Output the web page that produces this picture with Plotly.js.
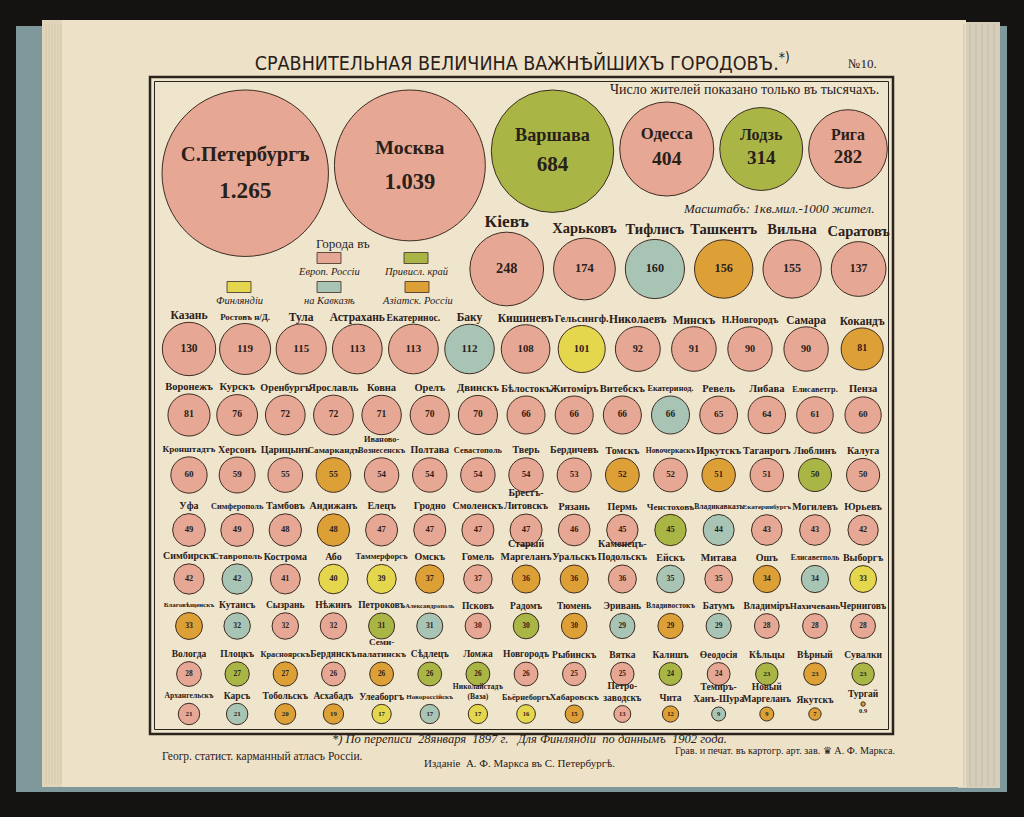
<!DOCTYPE html>
<html><head><meta charset="utf-8">
<script src="https://cdn.plot.ly/plotly-3.0.1.min.js"></script>
<style>html,body{margin:0;padding:0;background:#151311;}#chart{width:1024px;height:817px;}</style>
</head><body><div id="chart"></div>
<script>
// ---------------- DATA (population in thousands) ----------------
const row1Names = ['С.Петербургъ','Москва','Варшава','Одесса','Лодзь','Рига'];
const row1Values = [1265,1039,684,404,314,282];
const row1Labels = ['1.265','1.039','684','404','314','282'];
const row1Regions = ['E','E','P','E','P','E'];

const row2Names = ['Кіевъ','Харьковъ','Тифлисъ','Ташкентъ','Вильна','Саратовъ'];
const row2Values = [248,174,160,156,155,137];
const row2Regions = ['E','E','K','A','E','E'];

const row3Names = ['Казань','Ростовъ н/Д.','Тула','Астрахань','Екатеринос.','Баку','Кишиневъ','Гельсингф.','Николаевъ','Минскъ','Н.Новгородъ','Самара','Кокандъ'];
const row3Values = [130,119,115,113,113,112,108,101,92,91,90,90,81];
const row3Regions = ['E','E','E','E','E','K','E','F','E','E','E','E','A'];

const row4Names = ['Воронежъ','Курскъ','Оренбургъ','Ярославль','Ковна','Орелъ','Двинскъ','Бѣлостокъ','Житоміръ','Витебскъ','Екатеринод.','Ревель','Либава','Елисаветгр.','Пенза'];
const row4Values = [81,76,72,72,71,70,70,66,66,66,66,65,64,61,60];
const row4Regions = ['E','E','E','E','E','E','E','E','E','E','K','E','E','E','E'];

const row5Names = ['Кронштадтъ','Херсонъ','Царицынъ','Самаркандъ','Иваново-<br>Вознесенскъ','Полтава','Севастополь','Тверь','Бердичевъ','Томскъ','Новочеркаскъ','Иркутскъ','Таганрогъ','Люблинъ','Калуга'];
const row5Values = [60,59,55,55,54,54,54,54,53,52,52,51,51,50,50];
const row5Regions = ['E','E','E','A','E','E','E','E','E','A','E','A','E','P','E'];

const row6Names = ['Уфа','Симферополь','Тамбовъ','Андижанъ','Елецъ','Гродно','Смоленскъ','Брестъ-<br>Литовскъ','Рязань','Пермь','Ченстоховъ','Владикавказъ','Екатеринбургъ','Могилевъ','Юрьевъ'];
const row6Values = [49,49,48,48,47,47,47,47,46,45,45,44,43,43,42];
const row6Regions = ['E','E','E','A','E','E','E','E','E','E','P','K','E','E','E'];

const row7Names = ['Симбирскъ','Ставрополь','Кострома','Або','Таммерфорсъ','Омскъ','Гомель','Старый<br>Маргеланъ','Уральскъ','Каменецъ-<br>Подольскъ','Ейскъ','Митава','Ошъ','Елисаветполь','Выборгъ'];
const row7Values = [42,42,41,40,39,37,37,36,36,36,35,35,34,34,33];
const row7Regions = ['E','K','E','F','F','A','E','A','A','E','K','E','A','K','F'];

const row8Names = ['Благовѣщенскъ','Кутаисъ','Сызрань','Нѣжинъ','Петроковъ','Александрополь','Псковъ','Радомъ','Тюмень','Эривань','Владивостокъ','Батумъ','Владиміръ','Нахичевань','Черниговъ'];
const row8Values = [33,32,32,32,31,31,30,30,30,29,29,29,28,28,28];
const row8Regions = ['A','K','E','E','P','K','E','P','A','K','A','K','E','E','E'];

const row9Names = ['Вологда','Плоцкъ','Красноярскъ','Бердянскъ','Семи-<br>палатинскъ','Сѣдлецъ','Ломжа','Новгородъ','Рыбинскъ','Вятка','Калишъ','Өеодосія','Кѣльцы','Вѣрный','Сувалки'];
const row9Values = [28,27,27,26,26,26,26,26,25,25,24,24,23,23,23];
const row9Regions = ['E','P','A','E','A','P','P','E','E','E','P','E','P','A','P'];

const row10Names = ['Архангельскъ','Карсъ','Тобольскъ','Асхабадъ','Улеаборгъ','Новороссійскъ','Николайстадъ<br>(Ваза)','Бьёрнеборгъ','Хабаровскъ','Петро-<br>заводскъ','Чита','Темиръ-<br>Ханъ-Шура','Новый<br>Маргеланъ','Якутскъ','Тургай'];
const row10Values = [21,21,20,19,17,17,17,16,15,13,12,9,9,7,0.9];
const row10Regions = ['E','K','A','A','F','K','F','F','A','E','A','K','A','A','A'];

const regionKeys = ['E','P','F','K','A'];
const regionNames = ['Европ. Россіи','Привисл. край','Финляндіи','на Кавказѣ','Азіатск. Россіи'];

// ---------------- STYLE / LAYOUT ----------------
const COLORS = {E:'#e6a894', P:'#a9b646', F:'#e4d74e', K:'#a8c4b5', A:'#dda037'};
const INK = '#2a201a';
const SERIF = "'Liberation Serif', 'DejaVu Serif', serif";
const K = 4.68;                       // px of diameter per sqrt(thousand inhabitants)
const SIZEREF = 2/(K*K);              // plotly 'area' sizemode -> diameter = K*sqrt(v)
const rad = v => K*Math.sqrt(v)/2;

const bx=[], by=[], bv=[], bc=[];
const cx=[], cy=[], cv=[], cc=[], ct=[], ctp=[], cfs=[];
const lx=[], ly=[], lt=[], lfs=[];
const nx=[], ny=[], nt=[], nfs=[], vx=[], vy=[], vt=[], vfs=[];

// row 1: packed big circles
let cursor = 162;
row1Values.forEach((v,i)=>{
  const r = rad(v);
  const x = cursor + r; cursor = x + r + 6;
  const y = Math.max(149, 90 + r);
  bx.push(x); by.push(y); bv.push(v); bc.push(COLORS[row1Regions[i]]);
  nx.push(x); ny.push(y - 0.1*r - 9); nt.push(row1Names[i]); nfs.push(11.5 + 0.11*r);
  vx.push(x); vy.push(y + 0.22*r + 1); vt.push(row1Labels[i]); vfs.push(15 + 0.1*r);
});

const rows = [
  {n:row2Names, v:row2Values, g:row2Regions, mode:'packRight', right:886, gap:10, y:269, lf:14.5, off:9},
  {n:row3Names, v:row3Values, g:row3Regions, mode:'grid', x0:189, step:56.1, y:349, lf:11.5, off:6},
  {n:row4Names, v:row4Values, g:row4Regions, mode:'grid', x0:189, step:48.15, y:415, lf:10.5, off:7},
  {n:row5Names, v:row5Values, g:row5Regions, mode:'grid', x0:189, step:48.15, y:475, lf:10, off:7},
  {n:row6Names, v:row6Values, g:row6Regions, mode:'grid', x0:189, step:48.15, y:530, lf:10, off:7},
  {n:row7Names, v:row7Values, g:row7Regions, mode:'grid', x0:189, step:48.15, y:579, lf:10, off:7},
  {n:row8Names, v:row8Values, g:row8Regions, mode:'grid', x0:189, step:48.15, y:626, lf:9.5, off:7},
  {n:row9Names, v:row9Values, g:row9Regions, mode:'grid', x0:189, step:48.15, y:674, lf:9.5, off:7},
  {n:row10Names, v:row10Values, g:row10Regions, mode:'grid', x0:189, step:48.15, y:714, lf:9.5, off:7}
];

rows.forEach(row=>{
  const xs = [];
  if (row.mode === 'packRight') {
    let edge = row.right;
    for (let i=row.v.length-1;i>=0;i--){ const r=rad(row.v[i]); xs[i]=edge-r; edge = edge-2*r-row.gap; }
  } else {
    row.v.forEach((v,i)=>xs.push(row.x0 + row.step*i));
  }
  const maxW = row.mode==='grid' ? row.step*0.95 : 80;
  row.v.forEach((v,i)=>{
    const r = rad(v), d = 2*r;
    const tiny = d < 8;
    const y = tiny ? row.y - 10 : row.y;
    cx.push(xs[i]); cy.push(y); cv.push(v); cc.push(COLORS[row.g[i]]);
    ct.push(String(v)); ctp.push(tiny ? 'bottom center' : 'middle center');
    cfs.push(Math.max(6.5, 4 + 0.14*d));
    const lines = row.n[i].split('<br>');
    const longest = Math.max(...lines.map(s=>s.length));
    let fs = Math.min(row.lf * (v > 200 ? 1.2 : 1), maxW/(0.5*longest));
    lx.push(xs[i]); lt.push(row.n[i]); lfs.push(fs);
    ly.push(y - r - row.off - (lines.length-1)*1.3*fs/2);
  });
});

const traces = [
  {type:'scatter', mode:'markers', x:bx, y:by,
   marker:{size:bv, sizemode:'area', sizeref:SIZEREF, sizemin:0, color:bc, opacity:1,
           line:{color:'#3d2c22', width:1}},
   hoverinfo:'skip', cliponaxis:false},
  {type:'scatter', mode:'markers+text', x:cx, y:cy, text:ct, textposition:ctp,
   textfont:{family:SERIF, size:cfs, color:INK, weight:'bold'},
   marker:{size:cv, sizemode:'area', sizeref:SIZEREF, sizemin:0, color:cc, opacity:1,
           line:{color:'#3d2c22', width:1}},
   hoverinfo:'skip', cliponaxis:false},
  {type:'scatter', mode:'text', x:lx, y:ly, text:lt, textposition:'middle center',
   textfont:{family:SERIF, size:lfs, color:INK, weight:'bold'}, hoverinfo:'skip', cliponaxis:false},
  {type:'scatter', mode:'text', x:nx, y:ny, text:nt, textposition:'middle center',
   textfont:{family:SERIF, size:nfs, color:INK, weight:'bold'}, hoverinfo:'skip', cliponaxis:false},
  {type:'scatter', mode:'text', x:vx, y:vy, text:vt, textposition:'middle center',
   textfont:{family:SERIF, size:vfs, color:INK, weight:'bold'}, hoverinfo:'skip', cliponaxis:false}
];

// legend positions (decoration)
const legPos = {E:[329,258], P:[416,258], F:[239,287], K:[329,287], A:[417,287]};

const shapes = [
  // book cover and page
  {type:'rect', xref:'x', yref:'y', x0:16, x1:1007, y0:26, y1:792, fillcolor:'#7f989c', line:{width:0}, layer:'below'},
  {type:'rect', xref:'x', yref:'y', x0:958, x1:1000, y0:22, y1:788, fillcolor:'#d6cebb', line:{width:0}, layer:'below'},
  {type:'rect', xref:'x', yref:'y', x0:42, x1:966, y0:20, y1:787, fillcolor:'#ede2c8', line:{width:0}, layer:'below'},
  {type:'rect', xref:'x', yref:'y', x0:42, x1:62, y0:20, y1:787, fillcolor:'#e0d5ba', line:{width:0}, layer:'below'},
  // frame
  {type:'rect', xref:'x', yref:'y', x0:150, x1:893, y0:77, y1:734, fillcolor:'#efe5cc', line:{color:'#2b231d', width:2.5}, layer:'below'},
  {type:'rect', xref:'x', yref:'y', x0:154.5, x1:888.5, y0:81.5, y1:729.5, line:{color:'#2b231d', width:1}, layer:'below'}
];
// page stack lines
for (let k=0;k<6;k++){
  shapes.push({type:'line', xref:'x', yref:'y', x0:46+k*3, x1:46+k*3, y0:24, y1:784, line:{color:'#cfc3a6', width:0.7}, layer:'below'});
  shapes.push({type:'line', xref:'x', yref:'y', x0:964+k*6, x1:964+k*6, y0:24, y1:786, line:{color:'#bdb5a3', width:0.7}, layer:'below'});
}
regionKeys.forEach(k=>{
  const [x,y] = legPos[k];
  shapes.push({type:'rect', xref:'x', yref:'y', x0:x-12, x1:x+12, y0:y-5.5, y1:y+5.5, fillcolor:COLORS[k], line:{color:'#3d2c22', width:0.8}, layer:'below'});
});

const ann = (x,y,text,size,opts={}) => Object.assign({xref:'x', yref:'y', x, y, text, showarrow:false,
  font:{family:SERIF, size, color:INK}, xanchor:'center', yanchor:'middle'}, opts);

const annotations = [
  ann(862,63,'№10.',13),
  ann(881,89,'Число жителей показано только въ тысячахъ.',14,{xanchor:'right'}),
  ann(876,208,'<i>Масштабъ: 1кв.мил.-1000 жител.</i>',13,{xanchor:'right'}),
  ann(343,243,'Города въ',13),
  ann(529,739,'<i>*) По переписи  28января  1897 г.   Для Финляндіи  по даннымъ  1902 года.</i>',12.5),
  ann(160,756,'Геогр. статист. карманный атласъ Россіи.',11.5,{xanchor:'left'}),
  ann(897,750,'Грав. и печат. въ картогр. арт. зав. ♛ А. Ф. Маркса.',10.2,{xanchor:'right'}),
  ann(519,763,'Изданіе  А. Ф. Маркса въ С. Петербургѣ.',11)
];
regionKeys.forEach((k,i)=>{
  const [x,y] = legPos[k];
  annotations.push(ann(x, y+13, '<i>'+regionNames[i]+'</i>', 10.5));
});

const layout = {
  width:1024, height:817, margin:{l:0,r:0,t:0,b:0,pad:0},
  paper_bgcolor:'#151311', plot_bgcolor:'rgba(0,0,0,0)',
  xaxis:{range:[0,1024], visible:false, fixedrange:true},
  yaxis:{range:[817,0], visible:false, fixedrange:true},
  showlegend:false, shapes, annotations,
  title:{text:'СРАВНИТЕЛЬНАЯ ВЕЛИЧИНА ВАЖНѢЙШИХЪ ГОРОДОВЪ.<sup>*)</sup>',
         x:0.51, xanchor:'center', y:1-63/817, yanchor:'middle',
         font:{family:"'Liberation Sans Narrow', 'DejaVu Sans Condensed', 'Liberation Sans', sans-serif", size:19.5, color:INK}}
};

Plotly.newPlot('chart', traces, layout, {staticPlot:true, displayModeBar:false});
</script>
</body></html>
